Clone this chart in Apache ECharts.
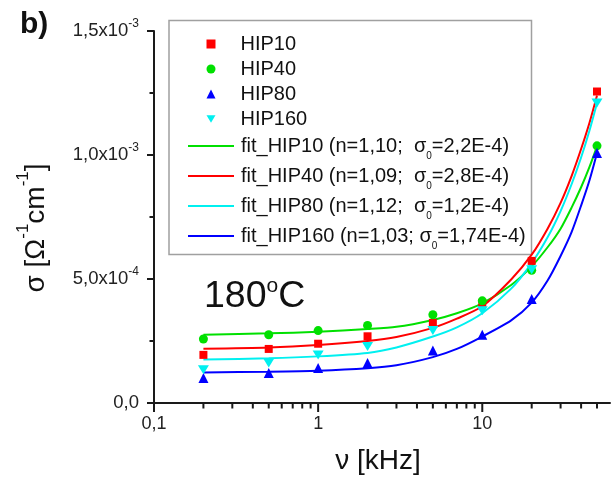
<!DOCTYPE html>
<html><head><meta charset="utf-8">
<script src="https://cdn.jsdelivr.net/npm/echarts@6/dist/echarts.min.js"></script>
<style>html,body{margin:0;padding:0;background:#fff}#c{width:613px;height:484px}</style>
</head><body><div id="c"></div>
<script>
const FONT = '"Liberation Sans", Arial, sans-serif';

// measured points: frequency [kHz] -> conductivity [S/cm]
const freqs  = [0.2, 0.5, 1, 2, 5, 10, 20, 50];
const hip10  = [1.94e-4, 2.18e-4, 2.39e-4, 2.69e-4, 3.23e-4, 4.04e-4, 5.73e-4, 1.256e-3];
const hip40  = [2.58e-4, 2.75e-4, 2.92e-4, 3.13e-4, 3.56e-4, 4.12e-4, 5.35e-4, 1.037e-3];
const hip80  = [1.01e-4, 1.21e-4, 1.41e-4, 1.61e-4, 2.12e-4, 2.75e-4, 4.19e-4, 1.008e-3];
const hip160 = [1.34e-4, 1.61e-4, 1.94e-4, 2.28e-4, 2.92e-4, 3.72e-4, 5.37e-4, 1.21e-3];

// fitted curves
const fitFreqs   = [0.2, 0.5, 1, 2, 3, 5, 7, 10, 15, 20, 25, 30, 35, 40, 45, 50];
const fitHip10   = [2.75e-4, 2.81e-4, 2.87e-4, 2.98e-4, 3.07e-4, 3.35e-4, 3.62e-4, 4.02e-4, 4.76e-4, 5.51e-4, 6.28e-4, 7.03e-4, 7.88e-4, 8.70e-4, 9.52e-4, 1.035e-3];
const fitHip40   = [2.19e-4, 2.24e-4, 2.34e-4, 2.50e-4, 2.66e-4, 3.03e-4, 3.40e-4, 3.90e-4, 4.98e-4, 5.98e-4, 7.03e-4, 8.07e-4, 9.15e-4, 1.024e-3, 1.13e-3, 1.24e-3];
const fitHip80   = [1.75e-4, 1.80e-4, 1.88e-4, 2.02e-4, 2.24e-4, 2.68e-4, 3.05e-4, 3.62e-4, 4.61e-4, 5.64e-4, 6.68e-4, 7.74e-4, 8.82e-4, 9.90e-4, 1.099e-3, 1.21e-3];
const fitHip160  = [1.23e-4, 1.26e-4, 1.30e-4, 1.40e-4, 1.52e-4, 1.85e-4, 2.18e-4, 2.68e-4, 3.33e-4, 4.05e-4, 4.94e-4, 5.93e-4, 6.89e-4, 7.96e-4, 8.98e-4, 1.008e-3];

const seriesNames = ['HIP10', 'HIP40', 'HIP80', 'HIP160'];
const fitNames = ['fit_HIP10', 'fit_HIP40', 'fit_HIP80', 'fit_HIP160'];
const fitN  = ['1,10', '1,09', '1,12', '1,03'];
const fitS0 = ['2,2E-4', '2,8E-4', '1,2E-4', '1,74E-4'];
const fitSep = ';  ', fitSepLast = '; ';

// axis ticks / labels
const xMajorTicks = [0.1, 1, 10];
const xMinorTicks = [0.2, 0.3, 0.4, 0.5, 0.6, 0.7, 0.8, 0.9, 2, 3, 4, 5, 6, 7, 8, 9, 20, 30, 40, 50];
const yLabelMant = ['0,0', '5,0', '1,0', '1,5'];
const yLabelExp  = ['', '-4', '-3', '-3'];

const zip = (xs, ys) => xs.map((x, i) => [x, ys[i]]);
const AX = '#1a1a1a';
const DOWN_TRI = 'path://M0,0L20,0L10,17Z';

const chart = echarts.init(document.getElementById('c'), null, {renderer: 'canvas'});

const legendFitFormatter = name => {
  const i = fitNames.indexOf(name);
  const sep = i === 3 ? fitSepLast : fitSep;
  return '{m|' + name + ' (n=' + fitN[i] + sep + 'σ}{sub|0}{m|=' + fitS0[i] + ')}';
};

const scatterCfg = [
  {name: 'HIP10',  data: hip10,  symbol: 'rect',     size: 8,  color: '#ff0000'},
  {name: 'HIP40',  data: hip40,  symbol: 'circle',   size: 9,  color: '#00e000'},
  {name: 'HIP80',  data: hip80,  symbol: 'triangle', size: 10, color: '#0000ff'},
  {name: 'HIP160', data: hip160, symbol: DOWN_TRI,   size: [11, 9], color: '#00f0f0'}
];
const fitCfg = [
  {name: 'fit_HIP10',  data: fitHip10,  color: '#00e000'},
  {name: 'fit_HIP40',  data: fitHip40,  color: '#ff0000'},
  {name: 'fit_HIP80',  data: fitHip80,  color: '#00f0f0'},
  {name: 'fit_HIP160', data: fitHip160, color: '#0000ff'}
];

const series = [];
fitCfg.forEach(f => series.push({
  type: 'line', name: f.name, data: zip(fitFreqs, f.data), smooth: 0.25,
  symbol: 'none', showSymbol: false, lineStyle: {color: f.color, width: 2}, itemStyle: {color: f.color}, z: 2
}));
scatterCfg.forEach(s => series.push({
  type: 'scatter', name: s.name, data: zip(freqs, s.data), symbol: s.symbol,
  symbolSize: s.size, itemStyle: {color: s.color, opacity: 1}, z: 3
}));
series.push({
  type: 'custom', name: 'xticks', silent: true, clip: false, z: 5,
  data: xMajorTicks.concat(xMinorTicks).map(v => [v, 0]),
  renderItem: (params, api) => {
    const p = api.coord([api.value(0), 0]);
    const len = params.dataIndex < xMajorTicks.length ? 8 : 4.5;
    return {type: 'line', shape: {x1: p[0], y1: p[1], x2: p[0], y2: p[1] + len + 1},
            style: {stroke: AX, lineWidth: 2}};
  }
});

chart.setOption({
  animation: false,
  backgroundColor: '#fff',
  grid: {left: 154, right: 0, top: 31, bottom: 81, containLabel: false},
  xAxis: {
    type: 'log', logBase: 10, min: 0.1, max: 60,
    axisLine: {show: true, onZero: false, lineStyle: {color: AX, width: 2}},
    axisTick: {show: false}, minorTick: {show: false},
    splitLine: {show: false},
    axisLabel: {
      fontFamily: FONT, fontSize: 18, color: '#222', margin: 12,
      formatter: v => {
        const l = Math.log10(v);
        if (Math.abs(l - Math.round(l)) > 1e-6) return '';
        return String(+(+v).toPrecision(6)).replace('.', ',');
      }
    }
  },
  yAxis: {
    type: 'value', min: 0, max: 1.5e-3, interval: 5e-4,
    axisLine: {show: true, lineStyle: {color: AX, width: 2}},
    axisTick: {show: true, length: 7, lineStyle: {color: AX, width: 2}},
    minorTick: {show: true, splitNumber: 2, length: 4.5, lineStyle: {color: AX, width: 2}},
    splitLine: {show: false},
    axisLabel: {
      fontFamily: FONT, fontSize: 18.5, color: '#222', margin: 15,
      formatter: (v, i) => yLabelExp[i] ? yLabelMant[i] + 'x10{sup|' + yLabelExp[i] + '}' : yLabelMant[i],
      rich: {sup: {fontFamily: FONT, fontSize: 12, color: '#222', padding: [0, 0, 15, 0]}}
    }
  },
  legend: [
    {
      data: [
        {name: 'HIP10', icon: 'rect'},
        {name: 'HIP40', icon: 'circle'},
        {name: 'HIP80', icon: 'triangle'},
        {name: 'HIP160', icon: DOWN_TRI}
      ],
      orient: 'vertical', left: 206.5, top: 34, padding: 0,
      itemWidth: 9, itemHeight: 9, itemGap: 5, selectedMode: false,
      textStyle: {fontFamily: FONT, fontSize: 20, color: '#111', lineHeight: 20, padding: [0, 0, 0, 20]}
    },
    {
      data: fitNames.map(n => ({name: n, icon: 'rect'})),
      orient: 'vertical', left: 188, top: 131, padding: 0,
      itemWidth: 46, itemHeight: 2, itemGap: 0, selectedMode: false,
      formatter: legendFitFormatter,
      textStyle: {
        fontFamily: FONT, fontSize: 20, color: '#111', padding: [0, 0, 0, 2],
        rich: {
          m: {fontFamily: FONT, fontSize: 20, color: '#111', lineHeight: 22},
          sub: {fontFamily: FONT, fontSize: 10, color: '#111', lineHeight: 10, padding: [20, 0, 0, 0]}
        }
      }
    }
  ],
  graphic: [
    {type: 'rect', z: 0, shape: {x: 169, y: 20.5, width: 362.5, height: 234},
     style: {fill: '#fff', stroke: '#a0a0a0', lineWidth: 1.5}},
    {type: 'text', x: 20, y: 25, style: {text: 'b)', font: 'bold 30px ' + FONT, fill: '#111', verticalAlign: 'middle'}},
    {type: 'text', x: 204, y: 296.5, style: {
      text: '{a|180}{o|o}{a|C}', verticalAlign: 'middle', fill: '#111',
      rich: {a: {fontFamily: FONT, fontSize: 37.5, color: '#111'},
             o: {fontFamily: FONT, fontSize: 21, color: '#111', padding: [0, 0, 20, 0]}}}},
    {type: 'text', x: 378, y: 461, style: {
      text: 'ν [kHz]', font: '28px ' + FONT, fill: '#111', align: 'center', verticalAlign: 'middle'}},
    {type: 'text', x: 36, y: 228, rotation: Math.PI / 2, style: {
      text: '{a|σ [Ω}{s|-1}{a|cm}{s|-1}{a|]}', align: 'center', verticalAlign: 'middle', fill: '#111',
      rich: {a: {fontFamily: FONT, fontSize: 28, color: '#111'},
             s: {fontFamily: FONT, fontSize: 17, color: '#111', padding: [0, 0, 26, 0]}}}}
  ],
  series: series
});
</script>
</body></html>
